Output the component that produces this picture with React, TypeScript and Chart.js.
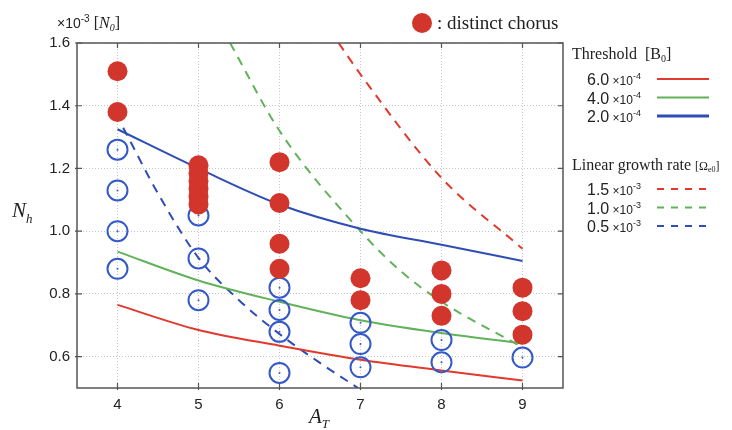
import { useEffect, useRef } from 'react';
import { Chart, registerables } from 'chart.js';
Chart.register(...registerables);

// ---- data ----
const aT = [4, 5, 6, 7, 8, 9];
const xTicks = [4, 5, 6, 7, 8, 9];
const yTicks = [0.6, 0.8, 1.0, 1.2, 1.4, 1.6];

// threshold curves (solid)
const thr6 = [0.765, 0.685, 0.635, 0.59, 0.556, 0.524];
const thr4 = [0.935, 0.843, 0.775, 0.716, 0.675, 0.642];
const thr2 = [1.325, 1.2, 1.085, 1.008, 0.957, 0.905];

// linear growth rate curves (dashed)
const gr15A = [6.73, 7, 8, 9];
const gr15N = [1.6, 1.5, 1.17, 0.944];
const gr10A = [5.39, 6, 7, 7.49, 8, 9];
const gr10N = [1.6, 1.32, 1.0, 0.874, 0.775, 0.63];
const gr05A = [4.07, 4.5, 5, 5.5, 6, 6.5, 6.97];
const gr05N = [1.33, 1.12, 0.915, 0.78, 0.672, 0.58, 0.5];

// distinct chorus (filled red)
const chorusA = [4, 4, 5, 5, 5, 5, 5, 5, 6, 6, 6, 6, 7, 7, 8, 8, 8, 9, 9, 9];
const chorusN = [1.51, 1.38, 1.21, 1.185, 1.16, 1.135, 1.11, 1.085, 1.22, 1.09, 0.96, 0.88, 0.85, 0.78, 0.875, 0.80, 0.73, 0.82, 0.745, 0.67];

// no distinct chorus (open blue)
const quietA = [4, 4, 4, 4, 5, 5, 5, 6, 6, 6, 6, 7, 7, 7, 8, 8, 9];
const quietN = [1.26, 1.13, 1.0, 0.88, 1.05, 0.913, 0.78, 0.82, 0.749, 0.679, 0.548, 0.708, 0.64, 0.566, 0.653, 0.582, 0.597];

const thrLabels = ['6.0', '4.0', '2.0'];
const grLabels = ['1.5', '1.0', '0.5'];

const RED = '#e03a2e';
const GREEN = '#62b25c';
const BLUE = '#2e4db5';
const DOT_RED = '#d2352b';
const CIRCLE_BLUE = '#3459c8';

const SANS = '"Liberation Sans", Arial, sans-serif';
const SERIF = '"Liberation Serif", "Times New Roman", serif';

const zip = (xs: number[], ys: number[]) => xs.map((x, i) => ({ x, y: ys[i] }));

type Part = [string, string, number];
function runs(ctx: CanvasRenderingContext2D, x: number, y: number, parts: Part[], color = '#222') {
  let cx = x;
  ctx.fillStyle = color;
  ctx.textAlign = 'left';
  ctx.textBaseline = 'alphabetic';
  for (const [t, f, dy] of parts) {
    ctx.font = f;
    ctx.fillText(t, cx, y + dy);
    cx += ctx.measureText(t).width;
  }
}

const deco = {
  id: 'deco',
  afterDraw(chart: any) {
    const { ctx, chartArea: a, scales } = chart;
    const x = scales.x;
    const y = scales.y;
    ctx.save();
    // frame
    ctx.strokeStyle = '#555';
    ctx.lineWidth = 1.5;
    ctx.setLineDash([]);
    ctx.strokeRect(a.left, a.top, a.right - a.left, a.bottom - a.top);
    // inward ticks
    ctx.lineWidth = 1.2;
    ctx.beginPath();
    xTicks.forEach((v) => {
      const px = x.getPixelForValue(v);
      ctx.moveTo(px, a.bottom + 2);
      ctx.lineTo(px, a.bottom - 5);
      ctx.moveTo(px, a.top);
      ctx.lineTo(px, a.top + 5);
    });
    yTicks.forEach((v) => {
      const py = y.getPixelForValue(v);
      ctx.moveTo(a.left - 2, py);
      ctx.lineTo(a.left + 5, py);
      ctx.moveTo(a.right, py);
      ctx.lineTo(a.right - 5, py);
    });
    ctx.stroke();

    // title: distinct chorus marker
    ctx.fillStyle = DOT_RED;
    ctx.beginPath();
    ctx.arc(422, 23, 10, 0, Math.PI * 2);
    ctx.fill();
    runs(ctx, 437, 29, [[': distinct chorus', `19px ${SERIF}`, 0]]);

    // y unit
    runs(ctx, 57, 28, [
      ['×10', `14px ${SANS}`, 0],
      ['-3', `10px ${SANS}`, -6],
      [' [', `16px ${SERIF}`, 0],
      ['N', `italic 16px ${SERIF}`, 0],
      ['0', `italic 10px ${SERIF}`, 3],
      [']', `16px ${SERIF}`, 0],
    ]);

    // axis titles
    runs(ctx, 12, 217, [
      ['N', `italic 21px ${SERIF}`, 0],
      ['h', `italic 13px ${SERIF}`, 6],
    ]);
    runs(ctx, 309, 423, [
      ['A', `italic 21px ${SERIF}`, 0],
      ['T', `italic 13px ${SERIF}`, 5],
    ]);

    // legend: threshold
    runs(ctx, 572, 59, [
      ['Threshold  [B', `16px ${SERIF}`, 0],
      ['0', `10px ${SERIF}`, 3],
      [']', `16px ${SERIF}`, 0],
    ]);
    const thrColors = [RED, GREEN, BLUE];
    const thrWidths = [2, 2, 3];
    thrLabels.forEach((lab, i) => {
      const by = 85 + 18.5 * i;
      runs(ctx, 587, by, [
        [lab, `16px ${SANS}`, 0],
        [' ×10', `12px ${SANS}`, 0],
        ['-4', `9px ${SANS}`, -6],
      ]);
      ctx.strokeStyle = thrColors[i];
      ctx.lineWidth = thrWidths[i];
      ctx.setLineDash([]);
      ctx.beginPath();
      ctx.moveTo(657, by - 6);
      ctx.lineTo(709, by - 6);
      ctx.stroke();
    });

    // legend: growth rate
    runs(ctx, 572, 170, [
      ['Linear growth rate ', `16px ${SERIF}`, 0],
      ['[Ω', `12px ${SERIF}`, 0],
      ['e0', `8px ${SERIF}`, 2],
      [']', `12px ${SERIF}`, 0],
    ]);
    grLabels.forEach((lab, i) => {
      const by = 195 + 18.5 * i;
      runs(ctx, 587, by, [
        [lab, `16px ${SANS}`, 0],
        [' ×10', `12px ${SANS}`, 0],
        ['-3', `9px ${SANS}`, -6],
      ]);
      ctx.strokeStyle = thrColors[i];
      ctx.lineWidth = 2;
      ctx.setLineDash([7, 7]);
      ctx.beginPath();
      ctx.moveTo(657, by - 6);
      ctx.lineTo(709, by - 6);
      ctx.stroke();
    });
    ctx.restore();
  },
};

export default function App() {
  const ref = useRef<HTMLCanvasElement>(null);
  useEffect(() => {
    if (!ref.current) return;
    const lineDs = (label: string, data: any[], color: string, dashed: boolean, order: number) => ({
      label,
      data,
      showLine: true,
      borderColor: color,
      backgroundColor: color,
      borderWidth: 2,
      borderDash: dashed ? [9, 7] : [],
      pointRadius: 0,
      cubicInterpolationMode: 'monotone' as const,
      order,
    });
    const chart = new Chart(ref.current, {
      type: 'scatter',
      data: {
        datasets: [
          {
            label: 'distinct chorus',
            data: zip(chorusA, chorusN),
            pointRadius: 10,
            pointHoverRadius: 10,
            backgroundColor: DOT_RED,
            borderWidth: 0,
            order: 0,
          },
          {
            label: 'no chorus',
            data: zip(quietA, quietN),
            pointRadius: 10,
            pointHoverRadius: 10,
            backgroundColor: 'rgba(0,0,0,0)',
            borderColor: CIRCLE_BLUE,
            borderWidth: 2,
            order: 1,
          },
          {
            label: 'no chorus centre',
            data: zip(quietA, quietN),
            pointRadius: 1,
            backgroundColor: CIRCLE_BLUE,
            borderWidth: 0,
            order: 1,
          },
          lineDs('thr 6.0', zip(aT, thr6), RED, false, 2),
          lineDs('thr 4.0', zip(aT, thr4), GREEN, false, 2),
          lineDs('thr 2.0', zip(aT, thr2), BLUE, false, 2),
          lineDs('gr 1.5', zip(gr15A, gr15N), RED, true, 3),
          lineDs('gr 1.0', zip(gr10A, gr10N), GREEN, true, 3),
          lineDs('gr 0.5', zip(gr05A, gr05N), BLUE, true, 3),
        ],
      },
      options: {
        responsive: false,
        animation: false,
        devicePixelRatio: 1,
        layout: { padding: { left: 0, top: 43, right: 169, bottom: 0 } },
        plugins: { legend: { display: false }, tooltip: { enabled: false } },
        scales: {
          x: {
            type: 'linear',
            min: 3.5,
            max: 9.5,
            afterBuildTicks: (s: any) => {
              s.ticks = xTicks.map((v) => ({ value: v }));
            },
            afterFit: (s: any) => {
              s.height = 42;
            },
            grid: { color: '#c4c4c4', lineWidth: 1, drawTicks: false },
            border: { display: false, dash: [1, 2] },
            ticks: {
              padding: 8,
              color: '#222',
              font: { family: SANS, size: 15 },
              callback: (v: any) => String(v),
            },
          },
          y: {
            type: 'linear',
            min: 0.5,
            max: 1.6,
            afterBuildTicks: (s: any) => {
              s.ticks = yTicks.map((v) => ({ value: v }));
            },
            afterFit: (s: any) => {
              s.width = 77;
            },
            grid: { color: '#c4c4c4', lineWidth: 1, drawTicks: false },
            border: { display: false, dash: [1, 2] },
            ticks: {
              padding: 7,
              color: '#222',
              font: { family: SANS, size: 15 },
              callback: (v: any) => Number(v).toFixed(1),
            },
          },
        },
      },
      plugins: [deco],
    });
    return () => chart.destroy();
  }, []);
  return (
    <div style={{ position: 'fixed', left: 0, top: 0, width: 732, height: 430, background: '#fff' }}>
      <canvas ref={ref} width={732} height={430} />
    </div>
  );
}
